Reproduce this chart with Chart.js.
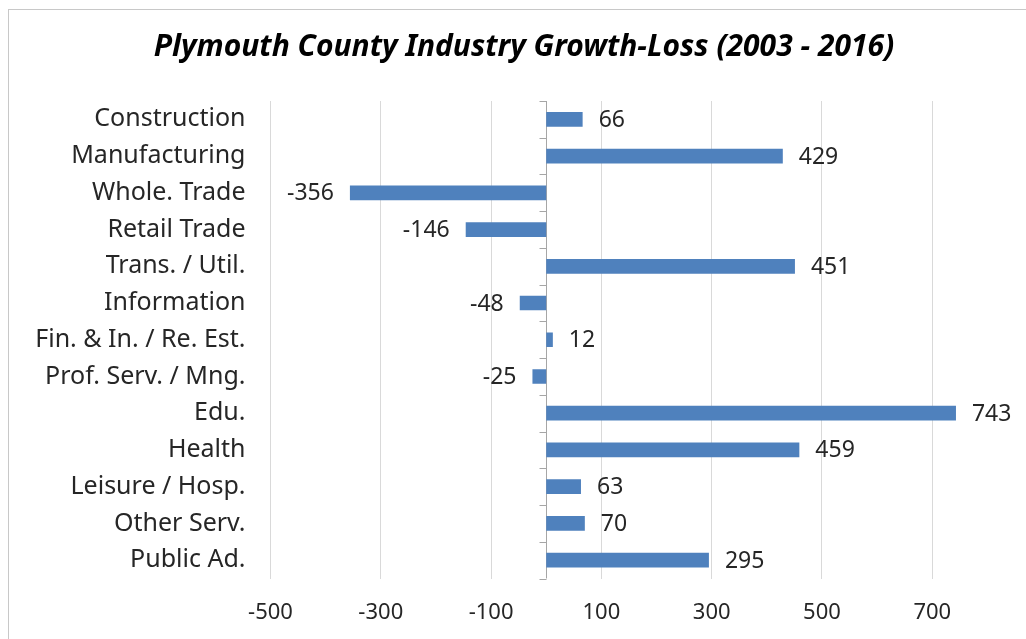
<!DOCTYPE html>
<html>
<head>
<meta charset="utf-8">
<script src="https://cdn.jsdelivr.net/npm/chart.js@4"></script>
<style>
  html, body { margin: 0; padding: 0; background: #fff; overflow: hidden; }
  #wrap { position: relative; width: 1026px; height: 639px; }
  #frame { position: absolute; left: 8px; top: 9px; width: 1100px; height: 700px; border: 1px solid #c8c8c8; }
  #chart { position: absolute; left: 0; top: 0; }
</style>
</head>
<body>
<div id="wrap">
  <div id="frame"></div>
  <canvas id="chart" width="1026" height="639"></canvas>
</div>
<script>
const categories = ["Construction", "Manufacturing", "Whole. Trade", "Retail Trade", "Trans. / Util.",
  "Information", "Fin. & In. / Re. Est.", "Prof. Serv. / Mng.", "Edu.", "Health",
  "Leisure / Hosp.", "Other Serv.", "Public Ad."];
const growthLoss = [66, 429, -356, -146, 451, -48, 12, -25, 743, 459, 63, 70, 295];
const xTicks = [-500, -300, -100, 100, 300, 500, 700];

const labelFont = "'Noto Sans', sans-serif";
const textColor = "#262626";

// vertical axis line at zero with small tick marks between categories
const zeroAxis = {
  id: 'zeroAxis',
  beforeDatasetsDraw(chart) {
    const { ctx, chartArea } = chart;
    const xs = chart.scales.x, ys = chart.scales.y;
    const x0 = Math.round(xs.getPixelForValue(0)) + 0.5;
    ctx.save();
    ctx.strokeStyle = '#a6a6a6';
    ctx.lineWidth = 1;
    ctx.beginPath();
    ctx.moveTo(x0, chartArea.top);
    ctx.lineTo(x0, chartArea.bottom);
    for (let i = 0; i <= categories.length; i++) {
      const y = Math.round(ys.getPixelForValue(i - 0.5)) + 0.5;
      ctx.moveTo(x0 - 7, y);
      ctx.lineTo(x0, y);
    }
    ctx.stroke();
    ctx.restore();
  }
};

// value labels outside the end of each bar
const valueLabels = {
  id: 'valueLabels',
  afterDatasetsDraw(chart) {
    const { ctx } = chart;
    const meta = chart.getDatasetMeta(0);
    ctx.save();
    ctx.font = "23px " + labelFont;
    ctx.fillStyle = textColor;
    ctx.textBaseline = 'middle';
    meta.data.forEach((bar, i) => {
      const v = growthLoss[i];
      if (v >= 0) {
        ctx.textAlign = 'left';
        ctx.fillText(v, bar.x + 16, bar.y + 1);
      } else {
        ctx.textAlign = 'right';
        ctx.fillText(v, bar.x - 16, bar.y + 1);
      }
    });
    ctx.restore();
  }
};

new Chart(document.getElementById('chart'), {
  type: 'bar',
  data: {
    labels: categories,
    datasets: [{
      data: growthLoss,
      backgroundColor: '#4f81bd',
      borderWidth: 0,
      barPercentage: 0.4,
      categoryPercentage: 1.0
    }]
  },
  options: {
    indexAxis: 'y',
    responsive: false,
    animation: false,
    events: [],
    layout: { padding: { left: 22, right: 0, top: 9, bottom: 0 } },
    plugins: {
      legend: { display: false },
      tooltip: { enabled: false },
      title: {
        display: true,
        text: 'Plymouth County Industry Growth-Loss (2003 - 2016)',
        color: '#000',
        font: { family: labelFont, size: 30, weight: 'bold', style: 'italic' },
        padding: { top: 20, bottom: 36 }
      }
    },
    scales: {
      x: {
        min: -500,
        max: 870,
        afterBuildTicks(scale) {
          scale.ticks = xTicks.map(v => ({ value: v }));
        },
        afterFit(scale) { scale.height = 60.5; },
        grid: { color: '#d9d9d9', drawTicks: false },
        border: { display: false },
        ticks: {
          color: textColor,
          font: { family: labelFont, size: 22 },
          padding: 21
        }
      },
      y: {
        afterFit(scale) { scale.width = 248.5; },
        grid: { display: false, drawTicks: false },
        border: { display: false },
        ticks: {
          color: textColor,
          font: { family: labelFont, size: 25 },
          padding: 25
        }
      }
    }
  },
  plugins: [zeroAxis, valueLabels]
});
</script>
</body>
</html>
